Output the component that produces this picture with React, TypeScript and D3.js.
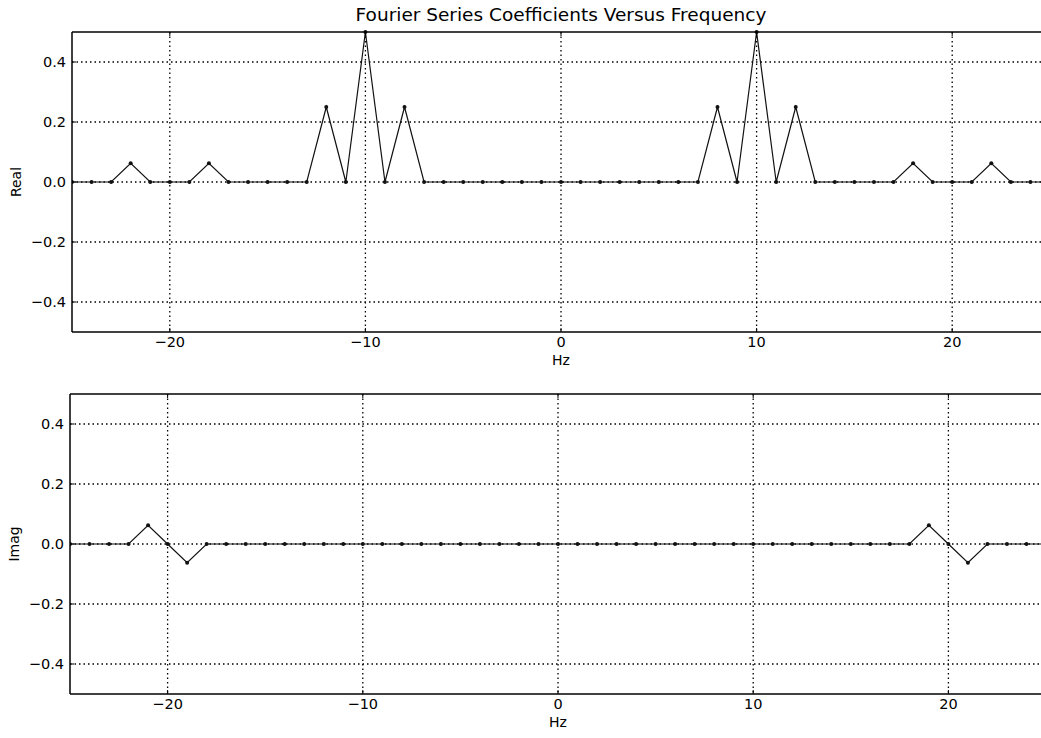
import React from "react";
import * as d3 from "d3";

const freqs: number[] = d3.range(-25, 26);
const realPeaksHz = [-22, -18, -12, -10, -8, 8, 10, 12, 18, 22];
const realPeaksVal = [0.0625, 0.0625, 0.25, 0.5, 0.25, 0.25, 0.5, 0.25, 0.0625, 0.0625];
const imagPeaksHz = [-21, -19, 19, 21];
const imagPeaksVal = [0.0625, -0.0625, 0.0625, -0.0625];
const realValues: number[] = freqs.map((f) => {
  const i = realPeaksHz.indexOf(f);
  return i >= 0 ? realPeaksVal[i] : 0;
});
const imagValues: number[] = freqs.map((f) => {
  const i = imagPeaksHz.indexOf(f);
  return i >= 0 ? imagPeaksVal[i] : 0;
});
const xTicks = [-20, -10, 0, 10, 20];
const yTicks = [-0.4, -0.2, 0.0, 0.2, 0.4];

const W = 1041;
const H = 738;
const FONT = "DejaVu Sans, sans-serif";

function fmtX(v: number) {
  return v < 0 ? "\u2212" + Math.abs(v) : String(v);
}
function fmtY(v: number) {
  const s = Math.abs(v).toFixed(1);
  return v < 0 ? "\u2212" + s : s;
}

function Panel({ top, bottom, left, right, values, ylabel }: { top: number; bottom: number; left: number; right: number; values: number[]; ylabel: string }) {
  const x = d3.scaleLinear().domain([-25, 25]).range([left, right]);
  const y = d3.scaleLinear().domain([-0.5, 0.5]).range([bottom, top]);
  const line = d3.line<number>().x((_, i) => x(freqs[i])).y((d) => y(d));
  const clipId = "clip" + ylabel;
  return (
    <g>
      <defs>
        <clipPath id={clipId}>
          <rect x={left} y={top - 3} width={right - left} height={bottom - top + 6} />
        </clipPath>
      </defs>
      {xTicks.map((t) => (
        <line key={"gx" + t} x1={x(t)} x2={x(t)} y1={top} y2={bottom} stroke="#000" strokeWidth={1.3} strokeDasharray="1.5,3" />
      ))}
      {yTicks.map((t) => (
        <line key={"gy" + t} x1={left} x2={right} y1={y(t)} y2={y(t)} stroke="#000" strokeWidth={1.3} strokeDasharray="1.5,3" />
      ))}
      <g clipPath={`url(#${clipId})`}>
        <path d={line(values) || ""} fill="none" stroke="#111" strokeWidth={1.2} />
        {values.map((v, i) => (
          <circle key={i} cx={x(freqs[i])} cy={y(v)} r={2} fill="#111" />
        ))}
      </g>
      <line x1={left} x2={right} y1={top} y2={top} stroke="#000" strokeWidth={1.5} />
      <line x1={left} x2={right} y1={bottom} y2={bottom} stroke="#000" strokeWidth={1.5} />
      <line x1={left} x2={left} y1={top} y2={bottom} stroke="#000" strokeWidth={1.5} />
      {xTicks.map((t) => (
        <g key={"tx" + t}>
          <line x1={x(t)} x2={x(t)} y1={bottom} y2={bottom - 4} stroke="#000" />
          <line x1={x(t)} x2={x(t)} y1={top} y2={top + 4} stroke="#000" />
          <text x={x(t)} y={bottom + 15} textAnchor="middle" fontFamily={FONT} fontSize={14.5} fill="#000">{fmtX(t)}</text>
        </g>
      ))}
      {yTicks.map((t) => (
        <g key={"ty" + t}>
          <line x1={left} x2={left + 4} y1={y(t)} y2={y(t)} stroke="#000" />
          <text x={left - 6} y={y(t) + 5} textAnchor="end" fontFamily={FONT} fontSize={14.5} fill="#000">{fmtY(t)}</text>
        </g>
      ))}
      <text x={x(0)} y={bottom + 33} textAnchor="middle" fontFamily={FONT} fontSize={14} fill="#000">Hz</text>
      <text transform={`translate(${left - 51},${(top + bottom) / 2}) rotate(-90)`} textAnchor="middle" fontFamily={FONT} fontSize={14} fill="#000">{ylabel}</text>
    </g>
  );
}

export default function App() {
  return (
    <svg width={W} height={H} style={{ position: "absolute", left: 0, top: 0, background: "#fff" }}>
      <rect x={0} y={0} width={W} height={H} fill="#fff" />
      <text x={561} y={21} textAnchor="middle" fontFamily={FONT} fontSize={18.5} fill="#000">Fourier Series Coefficients Versus Frequency</text>
      <Panel top={32} bottom={332} left={72} right={1050} values={realValues} ylabel="Real" />
      <Panel top={394} bottom={694} left={70} right={1046} values={imagValues} ylabel="Imag" />
    </svg>
  );
}
